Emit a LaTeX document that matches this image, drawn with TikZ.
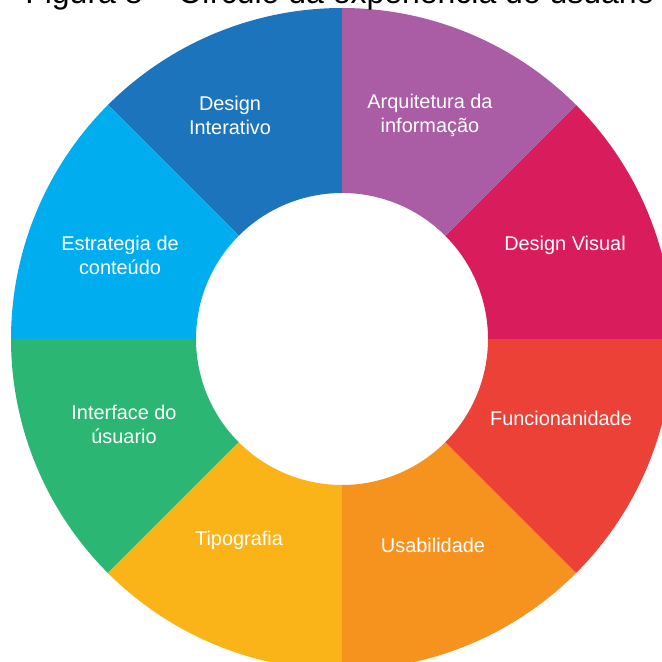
\documentclass[tikz,border=0pt]{standalone}
\usepackage{fontspec}
\setmainfont{Liberation Sans}
\usepackage{tikz}
\definecolor{diblue}{RGB}{28,117,188}
\definecolor{aipurple}{RGB}{170,92,165}
\definecolor{dvcrimson}{RGB}{217,28,92}
\definecolor{fnred}{RGB}{235,65,55}
\definecolor{usorange}{RGB}{246,146,30}
\definecolor{tpyellow}{RGB}{250,180,24}
\definecolor{iugreen}{RGB}{43,182,115}
\definecolor{eccyan}{RGB}{0,174,239}
\tikzset{x=0.03cm, y=0.03cm,
 label/.style={text=white, align=center, inner sep=0pt,
   font=\fontsize{17}{20.4}\selectfont},
 title/.style={text=black, anchor=base, inner sep=0pt,
   font=\fontsize{27.3}{32}\selectfont},
 }

\begin{document}
\begin{tikzpicture}
        \useasboundingbox (0, 0) rectangle (662, 661);
        \clip (0, 0) rectangle (662, 661);
        % ring of eight segments, 45 degrees each
        \begin{scope}[shift={(342, 322)}]
        \fill [diblue] (90:331) arc [start angle=90, end angle=135, radius=331] -- (135:146) arc [start angle=135, end angle=90, radius=146] -- cycle;
        \fill [eccyan] (135:331) arc [start angle=135, end angle=180, radius=331] -- (180:146) arc [start angle=180, end angle=135, radius=146] -- cycle;
        \fill [iugreen] (180:331) arc [start angle=180, end angle=225, radius=331] -- (225:146) arc [start angle=225, end angle=180, radius=146] -- cycle;
        \fill [tpyellow] (225:331) arc [start angle=225, end angle=270, radius=331] -- (270:146) arc [start angle=270, end angle=225, radius=146] -- cycle;
        \fill [usorange] (270:331) arc [start angle=270, end angle=315, radius=331] -- (315:146) arc [start angle=315, end angle=270, radius=146] -- cycle;
        \fill [fnred] (315:331) arc [start angle=315, end angle=360, radius=331] -- (0:146) arc [start angle=360, end angle=315, radius=146] -- cycle;
        \fill [dvcrimson] (0:331) arc [start angle=0, end angle=45, radius=331] -- (45:146) arc [start angle=45, end angle=0, radius=146] -- cycle;
        \fill [aipurple] (45:331) arc [start angle=45, end angle=90, radius=331] -- (90:146) arc [start angle=90, end angle=45, radius=146] -- cycle;
        \end{scope}
        % caption, cut at the top edge
        \node [title] (caption) at (340, 657) {Figura 8 – Círculo da experiência do usuário};
        % segment labels
        \node [label] (interativo) at (230, 546) {Design\\Interativo};
        \node [label] (arquitetura) at (430, 546) {Arquitetura da\\informação};
        \node [label] (visual) at (565, 416) {Design Visual};
        \node [label] (estrategia) at (120, 406) {Estrategia de\\conteúdo};
        \node [label] (interface) at (124, 237) {Interface do\\úsuario};
        \node [label] (funcionanidade) at (561, 243) {Funcionanidade};
        \node [label] (tipografia) at (239, 121) {Tipografia};
        \node [label] (usabilidade) at (433, 116) {Usabilidade};
    \end{tikzpicture}
\end{document}
